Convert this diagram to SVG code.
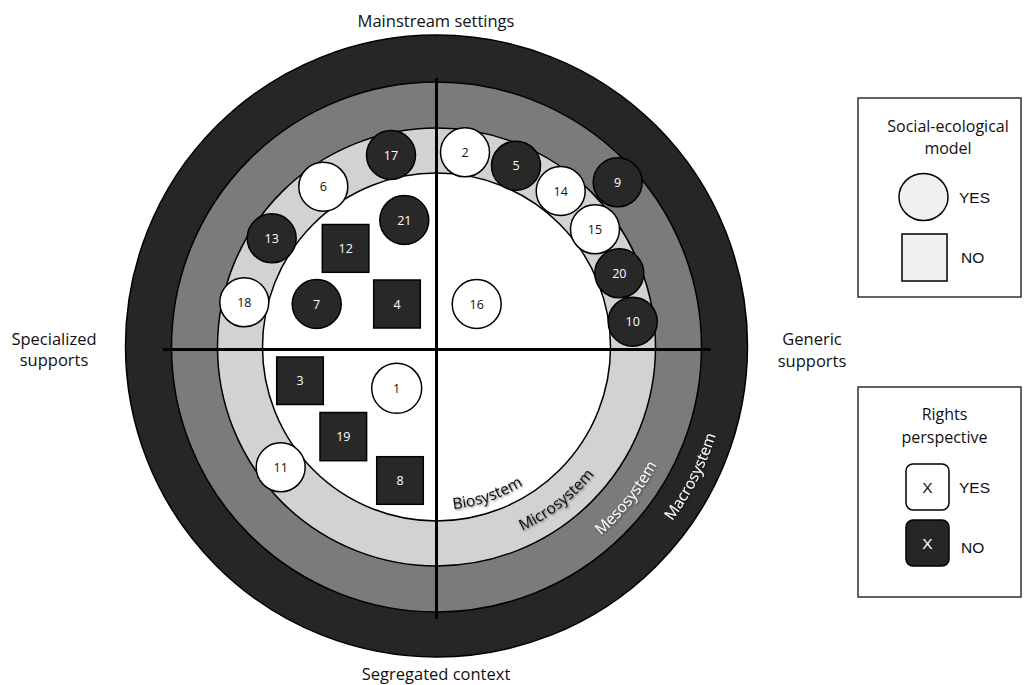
<svg xmlns="http://www.w3.org/2000/svg" width="1024" height="685" viewBox="0 0 1024 685">
<style>
.lbl{font-family:"Open Sans","Noto Sans",sans-serif;font-size:16.5px;fill:#111;text-anchor:middle}
.ring{font-family:"Open Sans","Noto Sans",sans-serif;font-size:15.5px}
.num{font-family:"Open Sans","Noto Sans",sans-serif;font-size:12.5px;text-anchor:middle;dominant-baseline:central}
.dk{fill:#282828;stroke:#000;stroke-width:1.5}
.wt{fill:#fff;stroke:#000;stroke-width:1.5}
.wtx{fill:#111}
.dkx{fill:#fff}
.leg{fill:#fff;stroke:#333;stroke-width:1.5}
.legt{font-family:"Open Sans","Noto Sans",sans-serif;font-size:16px;fill:#111;text-anchor:middle}
.legy{font-family:"Liberation Sans",Arial,sans-serif;font-size:15.5px;fill:#111}
.legw{font-family:"Liberation Sans",Arial,sans-serif;font-size:15.5px;fill:#fff}
.axis{stroke:#000;stroke-width:3}
</style>
<defs>
<filter id="sh" x="-10%" y="-30%" width="120%" height="160%">
<feDropShadow dx="1" dy="1" stdDeviation="0.8" flood-color="#000" flood-opacity="0.6"/>
</filter>
<path id="pBio" d="M408.2,507.5 A163,163 0 0 0 557.6,456.1"/>
<path id="pMic" d="M464.8,548.0 A203,203 0 0 0 624.7,423.0"/>
<path id="pMes" d="M528.1,579.6 A250,250 0 0 0 683.8,384.0"/>
<path id="pMac" d="M596.1,592.7 A293,293 0 0 0 729.1,331.7"/>
</defs>
<rect width="1024" height="685" fill="#fff"/>

<g id="rings">
<circle cx="436.5" cy="346" r="311" fill="#262626" stroke="#000" stroke-width="1.5"/>
<circle cx="436.5" cy="347" r="265" fill="#7b7b7b" stroke="#000" stroke-width="1.5"/>
<circle cx="436.5" cy="347" r="219" fill="#d2d2d2" stroke="#000" stroke-width="1.5"/>
<circle cx="436.5" cy="347" r="174" fill="#fff" stroke="#000" stroke-width="1.5"/>
</g>

<g id="axes">
<line class="axis" x1="436.5" y1="78" x2="436.5" y2="619"/>
<line class="axis" x1="163" y1="349.5" x2="711" y2="349.5"/>
</g>

<g id="ring-labels" class="ring">
<text filter="url(#sh)" fill="#111"><textPath href="#pBio" startOffset="50%" text-anchor="middle">Biosystem</textPath></text>
<text filter="url(#sh)" fill="#111"><textPath href="#pMic" startOffset="50%" text-anchor="middle">Microsystem</textPath></text>
<text filter="url(#sh)" fill="#fff"><textPath href="#pMes" startOffset="50%" text-anchor="middle">Mesosystem</textPath></text>
<text filter="url(#sh)" fill="#fff"><textPath href="#pMac" startOffset="50%" text-anchor="middle">Macrosystem</textPath></text>
</g>

<g id="axis-labels">
<text class="lbl" x="436" y="27">Mainstream settings</text>
<text class="lbl" x="436" y="680">Segregated context</text>
<text class="lbl" x="54" y="345">Specialized</text>
<text class="lbl" x="54" y="366">supports</text>
<text class="lbl" x="812" y="345">Generic</text>
<text class="lbl" x="812" y="367">supports</text>
</g>

<g id="n1"><circle class="wt" cx="396.7" cy="388.3" r="25"/><text class="num wtx" x="396.7" y="388.3">1</text></g>
<g id="n2"><circle class="wt" cx="465" cy="152.3" r="24.5"/><text class="num wtx" x="465" y="152.3">2</text></g>
<g id="n3"><rect class="dk" x="276.7" y="357" width="46.6" height="47.5"/><text class="num dkx" x="300" y="380.8">3</text></g>
<g id="n4"><rect class="dk" x="373.7" y="280" width="46.6" height="48"/><text class="num dkx" x="397" y="304">4</text></g>
<g id="n5"><circle class="dk" cx="516" cy="165.7" r="24.5"/><text class="num dkx" x="516" y="165.7">5</text></g>
<g id="n6"><circle class="wt" cx="323.3" cy="186.7" r="24.5"/><text class="num wtx" x="323.3" y="186.7">6</text></g>
<g id="n7"><circle class="dk" cx="316.7" cy="304" r="24.5"/><text class="num dkx" x="316.7" y="304">7</text></g>
<g id="n8"><rect class="dk" x="376.7" y="456.7" width="46.6" height="47.6"/><text class="num dkx" x="400" y="480.5">8</text></g>
<g id="n9"><circle class="dk" cx="617.7" cy="182.3" r="24.5"/><text class="num dkx" x="617.7" y="182.3">9</text></g>
<g id="n10"><circle class="dk" cx="632.7" cy="321.7" r="24.5"/><text class="num dkx" x="632.7" y="321.7">10</text></g>
<g id="n11"><circle class="wt" cx="280.7" cy="467.3" r="24.5"/><text class="num wtx" x="280.7" y="467.3">11</text></g>
<g id="n12"><rect class="dk" x="322.3" y="224.5" width="46.6" height="47.8"/><text class="num dkx" x="345.7" y="248.3">12</text></g>
<g id="n13"><circle class="dk" cx="271.7" cy="238.3" r="24.5"/><text class="num dkx" x="271.7" y="238.3">13</text></g>
<g id="n14"><circle class="wt" cx="560.7" cy="191" r="24.5"/><text class="num wtx" x="560.7" y="191">14</text></g>
<g id="n15"><circle class="wt" cx="595" cy="229.3" r="24.5"/><text class="num wtx" x="595" y="229.3">15</text></g>
<g id="n16"><circle class="wt" cx="476.7" cy="304" r="24.5"/><text class="num wtx" x="476.7" y="304">16</text></g>
<g id="n17"><circle class="dk" cx="391" cy="155" r="24.5"/><text class="num dkx" x="391" y="155">17</text></g>
<g id="n18"><circle class="wt" cx="244.3" cy="302.3" r="24.5"/><text class="num wtx" x="244.3" y="302.3">18</text></g>
<g id="n19"><rect class="dk" x="320" y="412.5" width="46.6" height="48.2"/><text class="num dkx" x="343.3" y="436.5">19</text></g>
<g id="n20"><circle class="dk" cx="619.3" cy="273.3" r="24.5"/><text class="num dkx" x="619.3" y="273.3">20</text></g>
<g id="n21"><circle class="dk" cx="404.3" cy="220" r="24.5"/><text class="num dkx" x="404.3" y="220">21</text></g>

<g id="legend-sem">
<rect class="leg" x="858" y="98" width="163" height="199"/>
<text class="legt" x="948" y="132">Social-ecological</text>
<text class="legt" x="948" y="154">model</text>
<ellipse cx="923.5" cy="197" rx="24.5" ry="23.5" fill="#f0f0f0" stroke="#000" stroke-width="1.5"/>
<text class="legy" x="959" y="203">YES</text>
<rect x="902" y="234" width="45" height="47" fill="#f0f0f0" stroke="#000" stroke-width="1.5"/>
<text class="legy" x="961" y="263">NO</text>
</g>

<g id="legend-rights">
<rect class="leg" x="858" y="387" width="163" height="210"/>
<text class="legt" x="944.5" y="420">Rights</text>
<text class="legt" x="944.5" y="443">perspective</text>
<rect x="906" y="464" width="43" height="46" rx="7" fill="#fff" stroke="#000" stroke-width="1.5"/>
<text class="legy" x="927.5" y="493" text-anchor="middle">X</text>
<text class="legy" x="959" y="493">YES</text>
<rect x="906" y="520" width="43" height="46" rx="7" fill="#262626" stroke="#000" stroke-width="1.5"/>
<text class="legw" x="927.5" y="549" text-anchor="middle">X</text>
<text class="legy" x="961" y="553">NO</text>
</g>
</svg>
